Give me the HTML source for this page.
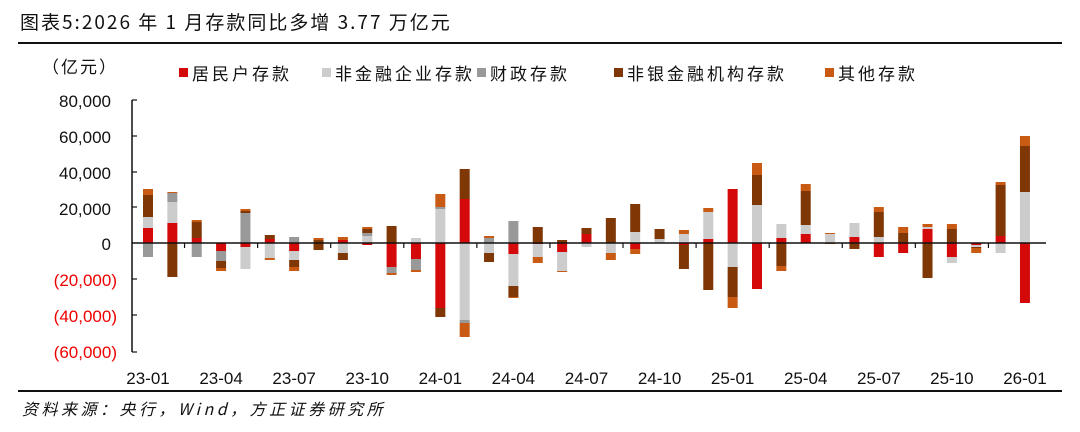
<!DOCTYPE html>
<html><head><meta charset="utf-8"><style>
body{margin:0;background:#fff;}
svg{display:block;font-family:"Liberation Sans","Noto Sans CJK SC",sans-serif;}
</style></head><body>
<svg id="c" width="1080" height="432" xmlns="http://www.w3.org/2000/svg">
<text x="20" y="29" font-size="19" fill="#111" letter-spacing="2" font-family="'Noto Sans CJK SC',sans-serif">图表5:2026 年 1 月存款同比多增 3.77 万亿元</text>
<line x1="18" y1="43" x2="1062" y2="43" stroke="#111" stroke-width="2"/>
<text x="42" y="73" font-size="17" fill="#111" letter-spacing="2" font-family="'Noto Sans CJK SC',sans-serif">（亿元）</text>
<g font-size="17" fill="#111" letter-spacing="3" font-family="'Noto Sans CJK SC',sans-serif">
<rect x="179" y="68" width="9" height="9" fill="#d40a0a"/><text x="192" y="80">居民户存款</text>
<rect x="322" y="68" width="9" height="9" fill="#cccccc"/><text x="335" y="80">非金融企业存款</text>
<rect x="477" y="68" width="9" height="9" fill="#999999"/><text x="490" y="80">财政存款</text>
<rect x="614" y="68" width="9" height="9" fill="#7f3706"/><text x="627" y="80">非银金融机构存款</text>
<rect x="825" y="68" width="9" height="9" fill="#c85a14"/><text x="838" y="80">其他存款</text>
</g>
<g font-size="17" text-anchor="end">
<text x="111" y="107" fill="#111">80,000</text>
<text x="111" y="143" fill="#111">60,000</text>
<text x="111" y="179" fill="#111">40,000</text>
<text x="111" y="215" fill="#111">20,000</text>
<text x="111" y="250" fill="#111">0</text>
<text x="117" y="286" fill="#e00">(20,000)</text>
<text x="117" y="322" fill="#e00">(40,000)</text>
<text x="117" y="358" fill="#e00">(60,000)</text>
</g>
<g id="bars"></g>
<line x1="132" y1="100" x2="132" y2="352" stroke="#111" stroke-width="1.5"/>
<g stroke="#111" stroke-width="1.2">
<line x1="132" y1="100" x2="137" y2="100"/><line x1="132" y1="136" x2="137" y2="136"/><line x1="132" y1="172" x2="137" y2="172"/><line x1="132" y1="207" x2="137" y2="207"/><line x1="132" y1="279" x2="137" y2="279"/><line x1="132" y1="315" x2="137" y2="315"/><line x1="132" y1="352" x2="137" y2="352"/>
</g>
<line x1="132" y1="243" x2="1046" y2="243" stroke="#111" stroke-width="1.5"/>
<g id="xl" font-size="17" fill="#111" text-anchor="middle"></g>
<line x1="18" y1="391" x2="1062" y2="391" stroke="#111" stroke-width="2"/>
<text x="22" y="415" font-size="16" fill="#111" font-style="italic" letter-spacing="3.5" font-family="'Noto Sans CJK SC',sans-serif">资料来源：央行，Wind，方正证券研究所</text>
</svg>
<script>
var C={r:"#d40a0a",l:"#cccccc",g:"#999999",b:"#7f3706",o:"#c85a14"};
var D=[
[[["r",228],["l",217],["b",195],["o",189]],[["g",257]]],
[[["r",223],["l",202],["g",193],["o",192]],[["b",277]]],
[[["r",238],["b",222],["o",220]],[["g",257]]],
[[],[["r",251],["g",261],["b",268],["o",271]]],
[[["g",213],["b",211],["o",209]],[["r",247],["l",269]]],
[[["r",239],["b",235]],[["l",258],["o",260]]],
[[["g",237]],[["r",251],["l",260],["b",267],["o",271]]],
[[["b",240],["o",238]],[["b",250]]],
[[["r",240],["o",237]],[["l",253],["b",260]]],
[[["l",236],["g",233],["b",229],["o",227]],[["r",245]]],
[[["b",226]],[["r",267],["g",273],["o",275]]],
[[["l",238]],[["r",259],["g",270],["o",272]]],
[[["l",209],["g",207],["o",194]],[["r",308],["b",317]]],
[[["r",199],["b",169]],[["l",320],["g",323],["o",337]]],
[[["g",238],["o",236]],[["l",253],["b",262]]],
[[["g",221]],[["r",254],["l",286],["b",297],["o",298]]],
[[["b",227]],[["r",244],["l",257],["o",263]]],
[[["b",240]],[["r",252],["l",271],["o",272]]],
[[["r",234],["b",228]],[["l",247]]],
[[["b",218]],[["l",253],["o",260]]],
[[["l",232],["b",204]],[["r",249],["o",254]]],
[[["l",239],["b",229]],[]],
[[["l",234],["o",230]],[["r",245],["b",269]]],
[[["r",239],["l",212],["o",208]],[["b",290]]],
[[["r",189]],[["l",267],["b",297],["o",308]]],
[[["l",205],["b",175],["o",163]],[["r",289]]],
[[["r",238],["l",224]],[["b",266],["o",271]]],
[[["r",234],["l",225],["b",191],["o",184]],[]],
[[["l",234],["o",233]],[["o",244]]],
[[["r",237],["l",223]],[["b",249]]],
[[["l",237],["b",212],["o",207]],[["r",257]]],
[[["b",233],["o",227]],[["r",253]]],
[[["r",229],["l",227],["o",224]],[["b",278]]],
[[["b",229],["o",224]],[["r",257],["l",263]]],
[[],[["r",245],["l",247],["b",248],["o",253]]],
[[["r",236],["b",185],["o",182]],[["l",253]]],
[[["l",192],["b",146],["o",136]],[["r",303]]]
];
var s="",x0=148,dx=24.36;
D.forEach(function(m,i){var cx=x0+i*dx,x=cx-5,prev=243;
m[0].forEach(function(p){s+='<rect x="'+x+'" y="'+p[1]+'" width="10" height="'+(prev-p[1])+'" fill="'+C[p[0]]+'"/>';prev=p[1];});
prev=243;m[1].forEach(function(p){s+='<rect x="'+x+'" y="'+prev+'" width="10" height="'+(p[1]-prev)+'" fill="'+C[p[0]]+'"/>';prev=p[1];});
});
var L=["23-01","23-04","23-07","23-10","24-01","24-04","24-07","24-10","25-01","25-04","25-07","25-10","26-01"],t="";
L.forEach(function(l,k){var cx=x0+k*3*dx;t+='<text x="'+cx+'" y="384">'+l+'</text>';
if(k>0)s+='<line x1="'+(cx-1.5*dx)+'" y1="243" x2="'+(cx-1.5*dx)+'" y2="248" stroke="#111" stroke-width="1.2"/>';});
document.getElementById("bars").innerHTML=s;document.getElementById("xl").innerHTML=t;
</script>
</body></html>
